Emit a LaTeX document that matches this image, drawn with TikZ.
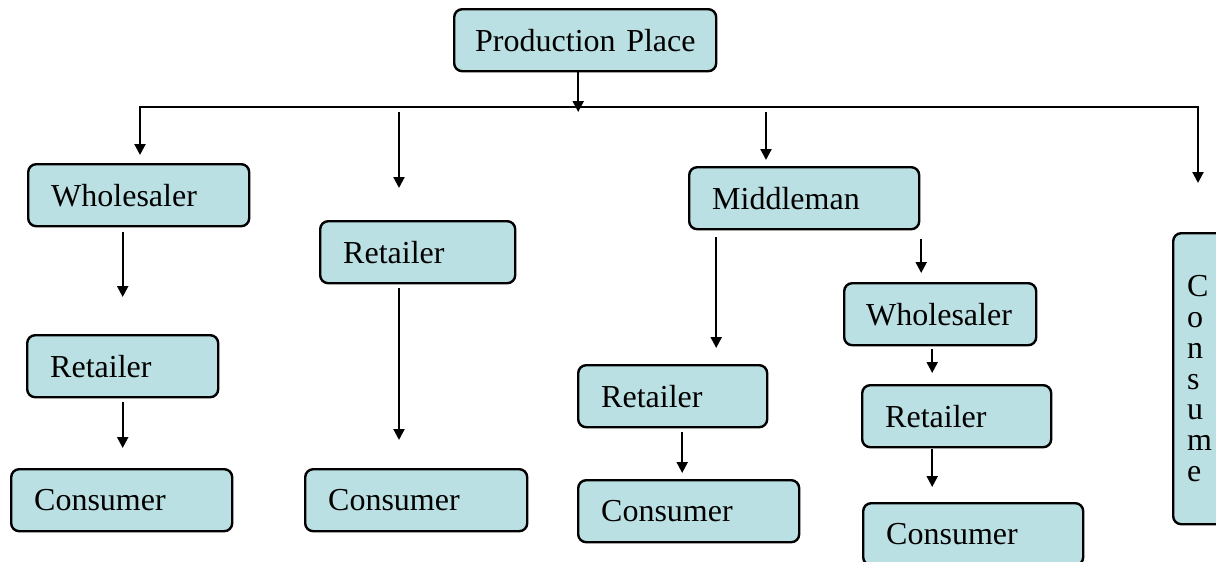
\documentclass[tikz,border=0pt]{standalone}
\usepackage{fontspec}
\setmainfont{Liberation Serif}
\usetikzlibrary{arrows.meta}
\definecolor{stagefill}{RGB}{187,224,227}
\begin{document}
\begin{tikzpicture}[x=0.5pt, y=-0.5pt,
    >={Triangle[length=5.5pt,width=5.5pt]},
    stage/.style={draw, line width=1.2pt, fill=stagefill, rounded corners=4pt,
      anchor=north west, minimum height=31pt, inner xsep=11.5pt, inner ysep=0pt,
      align=left, font=\fontsize{16}{19}\selectfont},
    flow/.style={->, line width=1.1pt}]
  \useasboundingbox (0,0) rectangle (1216,562);
  \node[stage, text width=110pt, inner xsep=10.5pt] (prod) at (453,8) {Production~Place};
  \node[stage, text width=87.5pt] (whole1) at (27,163) {Wholesaler};
  \node[stage, text width=72.5pt] (retail1) at (26,334) {Retailer};
  \node[stage, text width=87.5pt] (cons1) at (10,468) {Consumer};
  \node[stage, text width=74.5pt] (retail2) at (319,220) {Retailer};
  \node[stage, text width=88pt] (cons2) at (304,468) {Consumer};
  \node[stage, text width=92pt] (middle) at (688,166) {Middleman};
  \node[stage, text width=71.5pt] (retail3) at (577,364) {Retailer};
  \node[stage, text width=87.5pt] (cons3) at (577,479) {Consumer};
  \node[stage, text width=74pt, inner xsep=11pt] (whole2) at (843,282) {Wholesaler};
  \node[stage, text width=71.5pt] (retail4) at (861,384) {Retailer};
  \node[stage, text width=87pt] (cons4) at (862,502) {Consumer};
  \node[stage, text width=26pt, inner xsep=7pt, minimum height=145.5pt,
    font=\fontsize{16}{15.4}\selectfont] (consv) at (1172,232) {C\\o\\n\\s\\u\\m\\e};
  \coordinate (busL) at (140,107);
  \coordinate (busR) at (1198,107);
  \coordinate (drop2) at (399,107);
  \coordinate (drop3) at (766,107);
  \coordinate (split3) at ([xshift=-44pt]middle.south);
  \coordinate (split4) at ([xshift=58.5pt]middle.south);
  \coordinate (split5) at ([xshift=-4pt]whole2.south);
  \coordinate (split6) at ([xshift=4.75pt]retail3.south);
  \coordinate (split7) at ([xshift=-12.25pt]retail4.south);
  \draw[flow, shorten >=-2.5pt] ([xshift=-3.5pt]prod.south) -- ([xshift=-3.5pt]prod.south |- busL);
  \draw[<->, line width=1.1pt, shorten <=4pt, shorten >=24.5pt]
    (busL |- whole1.north) -- (busL) -- (busR) -- (busR |- consv.north);
  \draw[flow, shorten <=2.5pt, shorten >=16pt] (drop2) -- (drop2 |- retail2.north);
  \draw[flow, shorten <=2.5pt, shorten >=3pt] (drop3) -- (drop3 |- middle.north);
  \draw[flow, shorten <=2.5pt, shorten >=18.5pt] (whole1.south -| retail1.north) -- (retail1.north);
  \draw[flow, shorten <=2pt, shorten >=10pt] (retail1.south) -- (retail1.south |- cons1.north);
  \draw[flow, shorten <=2pt, shorten >=14pt] (retail2.south -| drop2) -- (drop2 |- cons2.north);
  \draw[flow, shorten <=3.5pt, shorten >=8pt] (split3) -- (split3 |- retail3.north);
  \draw[flow, shorten <=4.5pt, shorten >=4.5pt] (split4) -- (split4 |- whole2.north);
  \draw[flow, shorten <=1.5pt, shorten >=5.5pt] (split5) -- (split5 |- retail4.north);
  \draw[flow, shorten <=2pt, shorten >=3pt] (split6) -- (split6 |- cons3.north);
  \draw[flow, shorten <=0.5pt, shorten >=7.5pt] (split7) -- (split7 |- cons4.north);
\end{tikzpicture}
\end{document}
